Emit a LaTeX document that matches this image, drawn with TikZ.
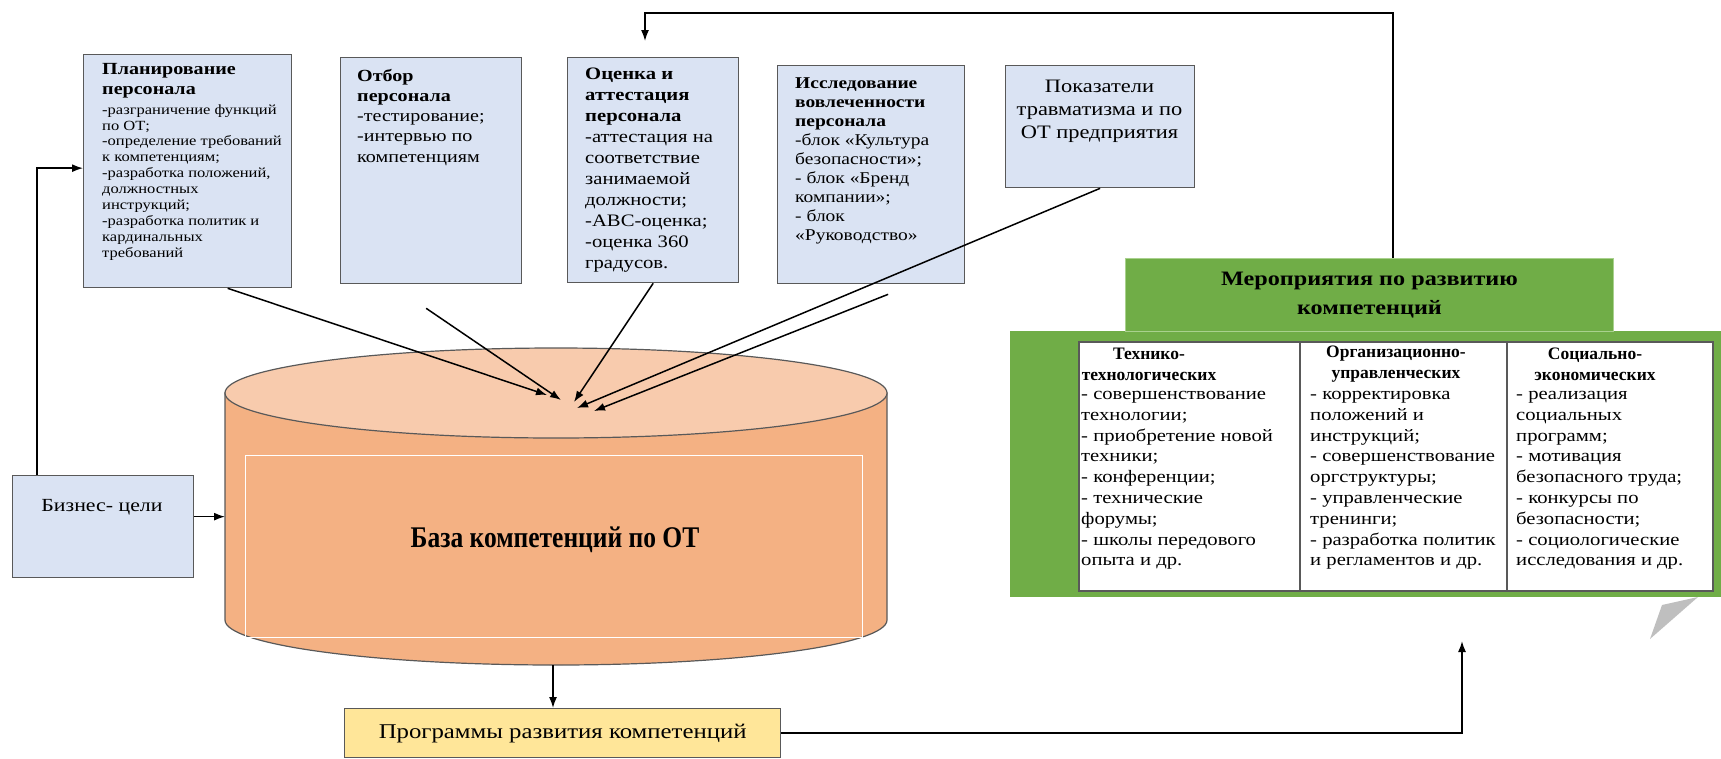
\documentclass[tikz,border=0pt]{standalone}
\usepackage{fontspec}
\setmainfont[FakeStretch=1.18]{Liberation Serif}
\newfontfamily\basefont[FakeStretch=0.85]{Liberation Serif}
\newfontfamily\headfont{Liberation Serif}
\usetikzlibrary{arrows.meta,calc}

\definecolor{boxblue}{HTML}{DAE3F3}
\definecolor{cylside}{HTML}{F4B183}
\definecolor{cyltop}{HTML}{F8CBAD}
\definecolor{ogreen}{HTML}{70AD47}
\definecolor{lgreen}{HTML}{A9D18E}
\definecolor{pyellow}{HTML}{FFE699}
\definecolor{edgegray}{HTML}{595959}
\definecolor{tailgray}{HTML}{BFBFBF}

\begin{document}
\begin{tikzpicture}[x=1pt,y=-1pt,
  bluebox/.style={draw=edgegray,line width=1.3pt,fill=boxblue,anchor=north west,inner sep=0pt},
  boxtext/.style={anchor=north west,inner sep=0pt,align=left},
  conn/.style={line width=1.5pt,-{Latex[length=11pt,width=8pt]}},
]
\useasboundingbox (0,0) rectangle (1721,758);

% ---------- input boxes along the top ----------
\node[bluebox,minimum width=208pt,minimum height=233pt] (b1) at (83,54) {};
\node[boxtext,font=\fontsize{14}{15.9}\selectfont] (b1t) at ([shift={(19,9)}]b1.north west)
  {{\fontsize{17}{20}\selectfont\bfseries Планирование}\\[4pt]
   {\fontsize{17}{20}\selectfont\bfseries персонала}\\[4pt]
   -разграничение функций\\по ОТ;\\-определение требований\\к компетенциям;\\
   -разработка положений,\\должностных\\инструкций;\\-разработка политик и\\
   кардинальных\\требований};

\node[bluebox,minimum width=181pt,minimum height=226pt] (b2) at (340,57) {};
\node[boxtext,font=\fontsize{17}{20.2}\selectfont] (b2t) at ([shift={(17,12)}]b2.north west)
  {\textbf{Отбор}\\\textbf{персонала}\\-тестирование;\\-интервью по\\компетенциям};

\node[bluebox,minimum width=171pt,minimum height=225pt] (b3) at (567,57) {};
\node[boxtext,font=\fontsize{17.5}{21}\selectfont] (b3t) at ([shift={(18,11)}]b3.north west)
  {\textbf{Оценка и}\\\textbf{аттестация}\\\textbf{персонала}\\-аттестация на\\соответствие\\
   занимаемой\\должности;\\-АВС-оценка;\\-оценка 360\\градусов.};

\node[bluebox,minimum width=187pt,minimum height=218pt] (b4) at (777,65) {};
\node[boxtext,font=\fontsize{16.5}{19}\selectfont] (b4t) at ([shift={(18,12)}]b4.north west)
  {\textbf{Исследование}\\\textbf{вовлеченности}\\\textbf{персонала}\\-блок «Культура\\
   безопасности»;\\- блок «Бренд\\компании»;\\- блок\\«Руководство»};

\node[bluebox,minimum width=189pt,minimum height=122pt] (b5) at (1005,65) {};
\node[inner sep=0pt,align=center,font=\fontsize{19}{23}\selectfont] (b5t) at (1099.5,111)
  {Показатели\\травматизма и по\\ОТ предприятия};

% ---------- business goals ----------
\node[bluebox,minimum width=181pt,minimum height=102pt] (bc) at (12,475) {};
\node[inner sep=0pt,font=\fontsize{18.5}{22}\selectfont] (bct) at (102,507) {Бизнес- цели};

% ---------- competence base (cylinder) ----------
\path[fill=cylside,draw=edgegray,line width=1.2pt]
  (225,393) -- (225,620) arc[start angle=180,end angle=360,x radius=331pt,y radius=45pt]
  -- (887,393) -- cycle;
\draw[fill=cyltop,draw=edgegray,line width=1.2pt] (556,393) ellipse[x radius=331pt,y radius=45pt];
\draw[white,line width=0.9pt] (245,455) rectangle (862,637);
\node[inner sep=0pt,font=\basefont\fontsize{30}{32}\selectfont\bfseries] (cyl) at (555,540) {База компетенций по ОТ};
\coordinate (cylL) at (225,516);
\coordinate (cylB) at (553,665);

% ---------- development programmes ----------
\node[draw=edgegray,line width=1.3pt,fill=pyellow,anchor=north west,inner sep=0pt,
      minimum width=436pt,minimum height=49pt,font=\fontsize{21}{24}\selectfont] (py) at (344,708)
  {Программы развития компетенций};

% ---------- measures block ----------
\node[fill=ogreen,anchor=north west,inner sep=0pt,minimum width=711pt,minimum height=266pt] (gb) at (1010,331) {};
\node[fill=ogreen,draw=lgreen,line width=1pt,anchor=north west,inner sep=0pt,
      minimum width=488pt,minimum height=73pt,align=center,
      font=\fontsize{20.5}{29}\selectfont\bfseries] (mh) at (1125,258)
  {Мероприятия по развитию\\компетенций};
\node[fill=white,draw=edgegray,line width=1.5pt,anchor=north west,inner sep=0pt,
      minimum width=634pt,minimum height=249pt] (tb) at (1078,341) {};
\draw[edgegray,line width=1.2pt] ($(tb.north west)+(222,0)$) -- ($(tb.south west)+(222,0)$);
\draw[edgegray,line width=1.2pt] ($(tb.north west)+(429,0)$) -- ($(tb.south west)+(429,0)$);

\tikzset{colhead/.style={inner sep=0pt,align=center,font=\headfont\fontsize{17.5}{20.8}\selectfont\bfseries},
         colbody/.style={anchor=north west,inner sep=0pt,align=left,font=\fontsize{17.5}{20.8}\selectfont}}
\node[colhead] (h1) at (1149,364) {Технико-\\технологических};
\node[colhead] (h2) at (1396,364) {Организационно-\\управленческих};
\node[colhead] (h3) at (1595,364) {Социально-\\экономических};
\node[colbody] (c1) at (1081,391)
  {- совершенствование\\технологии;\\- приобретение новой\\техники;\\- конференции;\\
   - технические\\форумы;\\- школы передового\\опыта и др.};
\node[colbody] (c2) at (1310,391)
  {- корректировка\\положений и\\инструкций;\\- совершенствование\\оргструктуры;\\
   - управленческие\\тренинги;\\- разработка политик\\и регламентов и др.};
\node[colbody] (c3) at (1516,391)
  {- реализация\\социальных\\программ;\\- мотивация\\безопасного труда;\\
   - конкурсы по\\безопасности;\\- социологические\\исследования и др.};

% callout tail under the block
\fill[tailgray] (1662,605) -- (1698,597) -- (1650,639) -- cycle;

% ---------- connectors ----------
\coordinate (fbR) at (1393,13);
\coordinate (fbL) at (645,13);
\draw[conn] (mh.north -| fbR) -- (fbR) -- (fbL) -- ([yshift=16pt]b3.north -| fbL);

\draw[conn] ([yshift=10pt]bc.east) -- ([yshift=10pt]bc.east -| cylL);
\draw[conn] ([xshift=-66pt]bc.north) |- ([yshift=3pt]b1.west);
\draw[conn] (cylB) -- (py.north -| cylB);
\coordinate (upT) at (1462,641);
\draw[conn] (py.east) -| (upT);

\coordinate (t1) at (547,395);
\coordinate (t2) at (561,400);
\coordinate (t3) at (574,402);
\coordinate (t4) at (577,408);
\coordinate (t5) at (594,411);
\draw[conn] ([xshift=40pt]b1.south) -- (t1);
\draw[conn] ([shift={(-5,24)}]b2.south) -- (t2);
\draw[conn] (b3.south) -- (t3);
\draw[conn] (b5.south) -- (t4);
\draw[conn] ([shift={(17,10)}]b4.south) -- (t5);
\end{tikzpicture}
\end{document}
